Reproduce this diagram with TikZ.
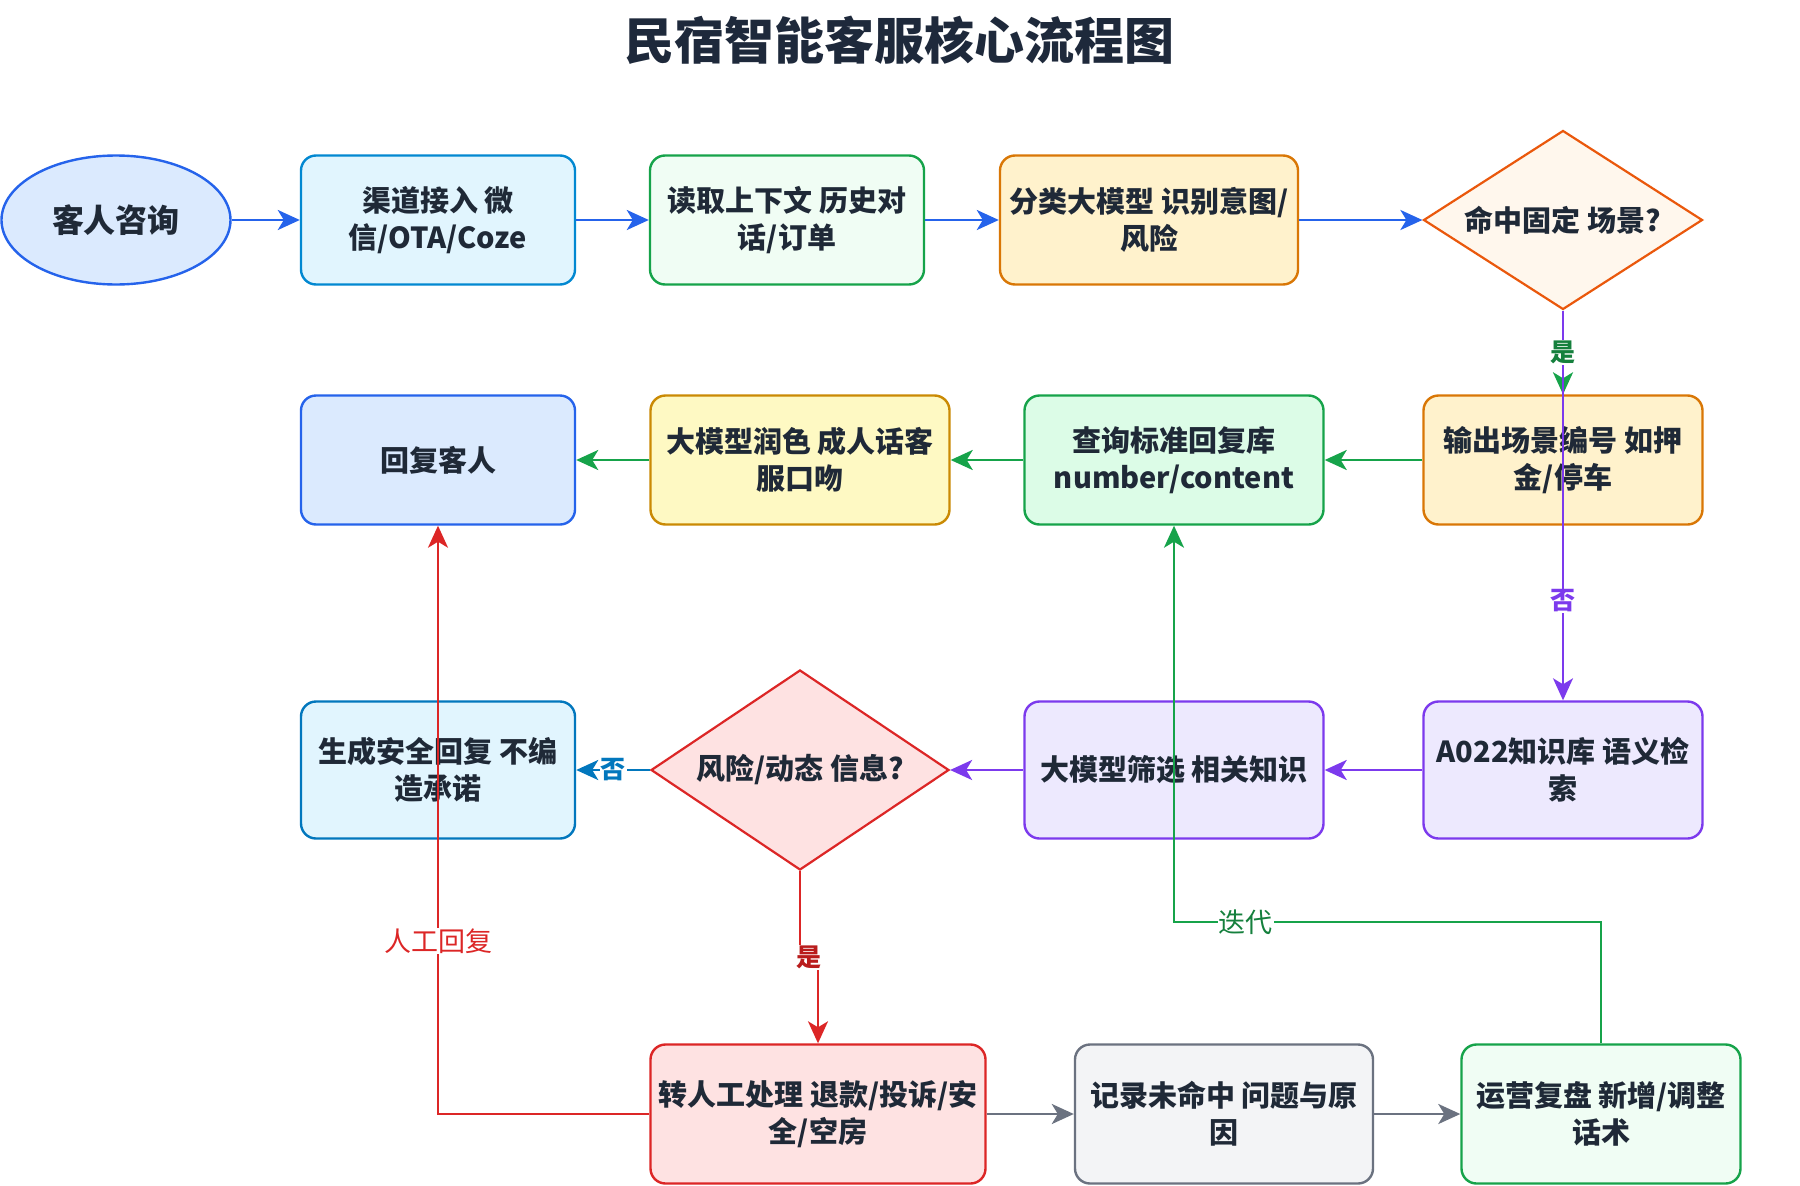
\documentclass[tikz,border=0pt]{standalone}
\usepackage{fontspec}
\setmainfont{Noto Sans CJK SC}
\usetikzlibrary{shapes.geometric,arrows.meta}

\definecolor{inkdark}{HTML}{1F2937}
\definecolor{titleink}{HTML}{1E293B}
\definecolor{blueline}{HTML}{2563EB}
\definecolor{bluefill}{HTML}{DBEAFE}
\definecolor{skyline}{HTML}{0288D1}
\definecolor{skyfill}{HTML}{E1F5FE}
\definecolor{tealline}{HTML}{0277BD}
\definecolor{greenline}{HTML}{16A34A}
\definecolor{greendark}{HTML}{15803D}
\definecolor{greenpale}{HTML}{F0FDF4}
\definecolor{greenfill}{HTML}{DCFCE7}
\definecolor{orangeline}{HTML}{D97706}
\definecolor{orangefill}{HTML}{FFF2CC}
\definecolor{hitline}{HTML}{EA580C}
\definecolor{hitfill}{HTML}{FFF7ED}
\definecolor{goldline}{HTML}{CA8A04}
\definecolor{goldfill}{HTML}{FEF9C3}
\definecolor{redline}{HTML}{DC2626}
\definecolor{reddark}{HTML}{B91C1C}
\definecolor{redfill}{HTML}{FEE2E2}
\definecolor{purpleline}{HTML}{7C3AED}
\definecolor{purplefill}{HTML}{EDE9FE}
\definecolor{grayline}{HTML}{6B7280}
\definecolor{grayfill}{HTML}{F3F4F6}

\tikzset{
  box/.style={rectangle, rounded corners=15pt, line width=2.4pt, minimum height=129pt,
    align=center, inner sep=2pt, text=inkdark,
    font=\fontsize{29}{37}\selectfont\bfseries},
  decision/.style={diamond, shape aspect=1.55, inner sep=0pt, line width=2.2pt,
    align=center, text=inkdark, font=\fontsize{29}{37}\selectfont\bfseries},
  flow/.style={line width=2.8pt, -{Stealth[length=22pt,width=20pt,inset=6pt]}},
  tag/.style={fill=white, inner sep=1pt, font=\fontsize{25}{25}\selectfont\bfseries},
  note/.style={fill=white, inner sep=1pt, font=\fontsize{27}{27}\selectfont},
}

\begin{document}
\begin{tikzpicture}[x=1pt, y=-1pt]
  \useasboundingbox[fill=white] (0,0) rectangle (1800,1186);

  \node[text=titleink, font=\fontsize{50}{50}\selectfont\bfseries] (title) at (899,40) {民宿智能客服核心流程图};

  \node[ellipse, draw=blueline, fill=bluefill, line width=2.4pt, minimum width=229pt, minimum height=129pt,
    text=inkdark, font=\fontsize{32}{32}\selectfont\bfseries] (guest) at (116,220) {客人咨询};
  \node[box, draw=skyline, fill=skyfill, minimum width=274pt] (channel) at (438,220) {渠道接入 微\\信/OTA/Coze};
  \node[box, draw=greenline, fill=greenpale, minimum width=274pt] (context) at (787,220) {读取上下文 历史对\\话/订单};
  \node[box, draw=orangeline, fill=orangefill, minimum width=298pt] (classify) at (1149,220) {分类大模型 识别意图/\\风险};
  \node[decision, draw=hitline, fill=hitfill, minimum width=279pt, minimum height=179pt] (hit) at (1563,220) {命中固定 场景?};

  \node[box, draw=blueline, fill=bluefill, minimum width=274pt] (reply) at (438,460) {回复客人};
  \node[box, draw=goldline, fill=goldfill, minimum width=299pt] (polish) at (800,460) {大模型润色 成人话客\\服口吻};
  \node[box, draw=greenline, fill=greenfill, minimum width=299pt] (query) at (1174,460) {查询标准回复库\\number/content};
  \node[box, draw=orangeline, fill=orangefill, minimum width=279pt] (scene) at (1563,460) {输出场景编号 如押\\金/停车};

  \node[box, draw=tealline, fill=skyfill, minimum width=274pt, minimum height=137pt] (safe) at (438,770) {生成安全回复 不编\\造承诺};
  \node[decision, draw=redline, fill=redfill, minimum width=298pt, minimum height=200pt] (risk) at (800,770) {风险/动态 信息?};
  \node[box, draw=purpleline, fill=purplefill, minimum width=299pt, minimum height=137pt] (filter) at (1174,770) {大模型筛选 相关知识};
  \node[box, draw=purpleline, fill=purplefill, minimum width=279pt, minimum height=137pt] (kb) at (1563,770) {A022知识库 语义检\\索};

  \node[box, draw=redline, fill=redfill, minimum width=335pt, minimum height=139pt] (manual) at (818,1114) {转人工处理 退款/投诉/安\\全/空房};
  \node[box, draw=grayline, fill=grayfill, minimum width=298pt, minimum height=139pt] (log) at (1224,1114) {记录未命中 问题与原\\因};
  \node[box, draw=greenline, fill=greenpale, minimum width=279pt, minimum height=139pt] (ops) at (1601,1114) {运营复盘 新增/调整\\话术};

  \draw[flow, blueline] (guest) -- (channel);
  \draw[flow, blueline] (channel) -- (context);
  \draw[flow, blueline] (context) -- (classify);
  \draw[flow, blueline] (classify) -- (hit);

  \draw[flow, greenline] (hit.south) -- (scene.north);
  \draw[flow, purpleline, line width=2pt] (hit.south) -- (kb.north)
    node[tag, text=purpleline, pos=0.745] {否};
  \path (hit.south) -- (scene.north) node[tag, text=greendark, midway] {是};

  \draw[flow, greenline] (scene) -- (query);
  \draw[flow, greenline] (query) -- (polish);
  \draw[flow, greenline] (polish) -- (reply);

  \draw[flow, purpleline] (kb) -- (filter);
  \draw[flow, purpleline] (filter) -- (risk);
  \draw[flow, tealline] (risk) -- (safe) node[tag, text=tealline, midway] {否};

  \draw[flow, redline, line width=2pt] (risk.south) -- ++(0,86) node[tag, text=reddark, xshift=9pt] {是} -| (manual.north);
  \draw[flow, redline, line width=2.2pt] (manual.west) -| (reply.south)
    node[note, text=redline, pos=0.647] {人工回复};

  \draw[flow, grayline] (manual) -- (log);
  \draw[flow, grayline] (log) -- (ops);

  \draw[flow, greenline, line width=2.2pt] (ops.north) -- ++(0,-121) -| (query.south)
    node[note, text=greendark, pos=0.416] {迭代};
\end{tikzpicture}
\end{document}
